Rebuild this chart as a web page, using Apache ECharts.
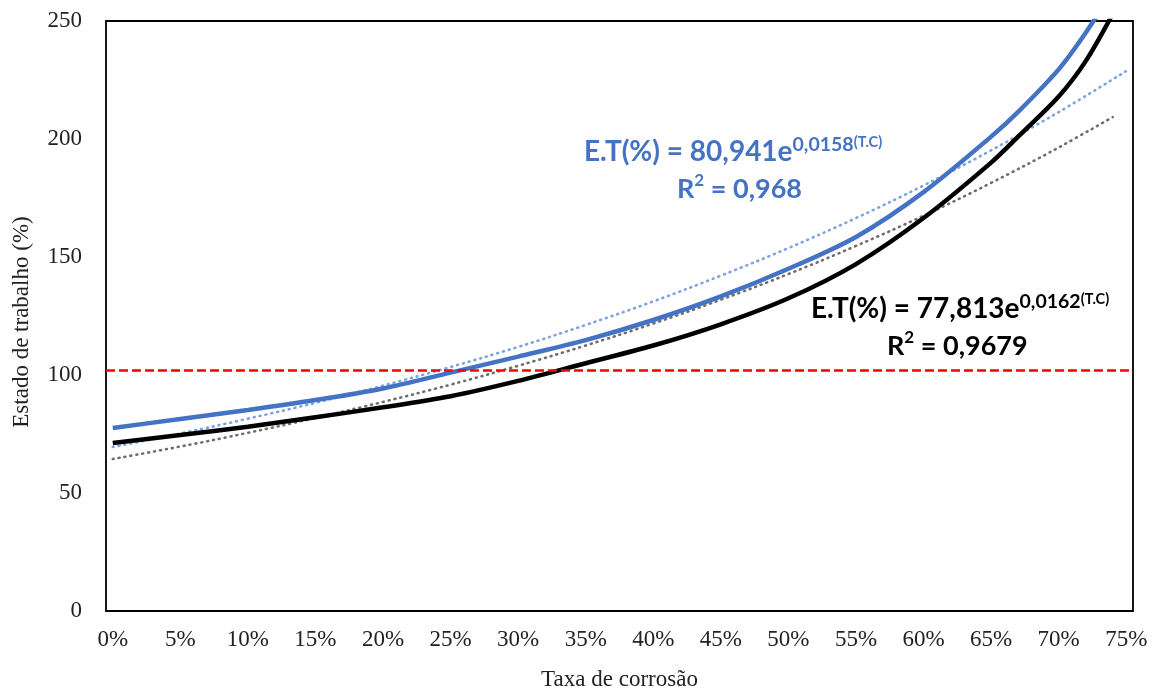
<!DOCTYPE html>
<html>
<head>
<meta charset="utf-8">
<script src="https://cdn.jsdelivr.net/npm/echarts@6/dist/echarts.min.js"></script>
<style>
  html, body { margin: 0; padding: 0; background: #fff; }
  #chart { width: 1159px; height: 689px; }
</style>
</head>
<body>
<div id="chart"></div>
<script>
// Corrosion rate categories, 0% .. 75% in 1% steps
const categories = [];
for (let i = 0; i <= 75; i++) categories.push(i + '%');

// Measured working state (%) — [corrosion %, value]
const seriesBlue = [
  [0, 77.5], [5, 81.4], [10, 85.2], [15, 89.4], [20, 94.3], [25, 101],
  [30, 107.8], [35, 114.8], [40, 123.3], [45, 133.3], [50, 145], [55, 158.5],
  [60, 177.5], [65, 201], [67, 211.5], [70, 229.5], [72, 245], [74, 263], [75, 272]
];
const seriesBlack = [
  [0, 71.2], [5, 74.6], [10, 78.1], [15, 82.1], [20, 86.3], [25, 91],
  [30, 97.5], [35, 105], [40, 112.5], [45, 121.5], [50, 132.5], [55, 147],
  [60, 166.5], [65, 190], [67, 201], [70, 218], [72, 233], [74, 253]
];

// Exponential trend lines as drawn
const trendBlue = [
  [0, 69.5], [5, 75.2], [10, 81.5], [15, 88.2], [20, 95.5], [25, 103.4],
  [30, 111.9], [35, 121.2], [40, 131.2], [45, 142.1], [50, 153.8], [55, 166.5],
  [60, 180.3], [65, 195.2], [70, 211.4], [75, 228.8]
];
const trendBlack = [
  [0, 64.4], [5, 69.7], [10, 75.5], [15, 81.8], [20, 88.6], [25, 95.9],
  [30, 103.9], [35, 112.5], [40, 121.8], [45, 131.9], [50, 142.8], [55, 154.7],
  [60, 167.5], [65, 181.4], [70, 196.4], [74, 209.3]
];

// Reference level
const referenceLevel = 102;

const yTicks = [0, 50, 100, 150, 200, 250];

const serif = '"Liberation Serif", "Times New Roman", serif';
const sans = 'Lato, "Open Sans", sans-serif';

// Rich-text styles for the regression equations and R² lines
function equationStyle(color) {
  return {
    a: { fontFamily: sans, fontWeight: 'bold', fontSize: 28, fill: color, lineHeight: 34 },
    s: { fontFamily: sans, fontWeight: 'bold', fontSize: 19.5, fill: color, verticalAlign: 'top', lineHeight: 34, padding: [0, 0, 22, 0] },
    t: { fontFamily: sans, fontWeight: 'bold', fontSize: 14.5, fill: color, verticalAlign: 'top', lineHeight: 34, padding: [0, 0, 24, 0] }
  };
}
function r2Style(color) {
  return {
    a: { fontFamily: sans, fontWeight: 'bold', fontSize: 27, fill: color, lineHeight: 34 },
    s: { fontFamily: sans, fontWeight: 'bold', fontSize: 17, fill: color, verticalAlign: 'top', lineHeight: 34, padding: [0, 0, 8, 0] }
  };
}

const chart = echarts.init(document.getElementById('chart'));

chart.setOption({
  animation: false,
  grid: {
    left: 106, top: 21, right: 26, bottom: 78,
    outerBoundsMode: 'none',
    containLabel: false,
    show: true, borderColor: '#000', borderWidth: 1.8, backgroundColor: '#fff'
  },
  xAxis: {
    type: 'category',
    data: categories,
    boundaryGap: true,
    axisLine: { show: false },
    axisTick: { show: false },
    axisLabel: {
      interval: 4, margin: 17,
      fontFamily: serif, fontSize: 23, color: '#222'
    },
    name: 'Taxa de corrosão',
    nameLocation: 'middle',
    nameGap: 57,
    nameTextStyle: { fontFamily: serif, fontSize: 23, color: '#222' }
  },
  yAxis: {
    type: 'value',
    min: yTicks[0], max: yTicks[yTicks.length - 1], interval: 50,
    axisLine: { show: false },
    axisTick: { show: false },
    splitLine: { show: false },
    axisLabel: { margin: 24, fontFamily: serif, fontSize: 23, color: '#222' },
    name: 'Estado de trabalho (%)',
    nameLocation: 'middle',
    nameGap: 73,
    nameTextStyle: { fontFamily: serif, fontSize: 23, color: '#222', padding: [0, 12, 0, 0] }
  },
  series: [
    {
      name: 'trendBlue', type: 'line', data: trendBlue, smooth: 0.4,
      showSymbol: false, z: 2,
      lineStyle: { color: '#7FA3E0', width: 2.6, type: [1, 5], cap: 'round' }
    },
    {
      name: 'trendBlack', type: 'line', data: trendBlack, smooth: 0.4,
      showSymbol: false, z: 2,
      lineStyle: { color: '#6E6E6E', width: 2.6, type: [1, 5], cap: 'round' }
    },
    {
      name: 'blue', type: 'line', data: seriesBlue, smooth: 0.3,
      showSymbol: false, z: 3,
      lineStyle: { color: '#4472C4', width: 4.5 }
    },
    {
      name: 'black', type: 'line', data: seriesBlack, smooth: 0.3,
      showSymbol: false, z: 3,
      lineStyle: { color: '#000', width: 4.5 },
      markLine: {
        silent: true, symbol: 'none', label: { show: false },
        lineStyle: { color: '#FF0000', width: 2.5, type: [9, 4] },
        data: [{ yAxis: referenceLevel }]
      }
    }
  ],
  graphic: [
    {
      type: 'text', left: 584, top: 135, z: 10,
      style: { text: '{a|E.T(%) = 80,941e}{s|0,0158}{t|(T.C)}', rich: equationStyle('#4472C4') }
    },
    {
      type: 'text', left: 677, top: 172, z: 10,
      style: { text: '{a|R}{s|2}{a| = 0,968}', rich: r2Style('#4472C4') }
    },
    {
      type: 'text', left: 811, top: 292, z: 10,
      style: { text: '{a|E.T(%) = 77,813e}{s|0,0162}{t|(T.C)}', rich: equationStyle('#000') }
    },
    {
      type: 'text', left: 887, top: 329, z: 10,
      style: { text: '{a|R}{s|2}{a| = 0,9679}', rich: r2Style('#000') }
    }
  ]
});
</script>
</body>
</html>
